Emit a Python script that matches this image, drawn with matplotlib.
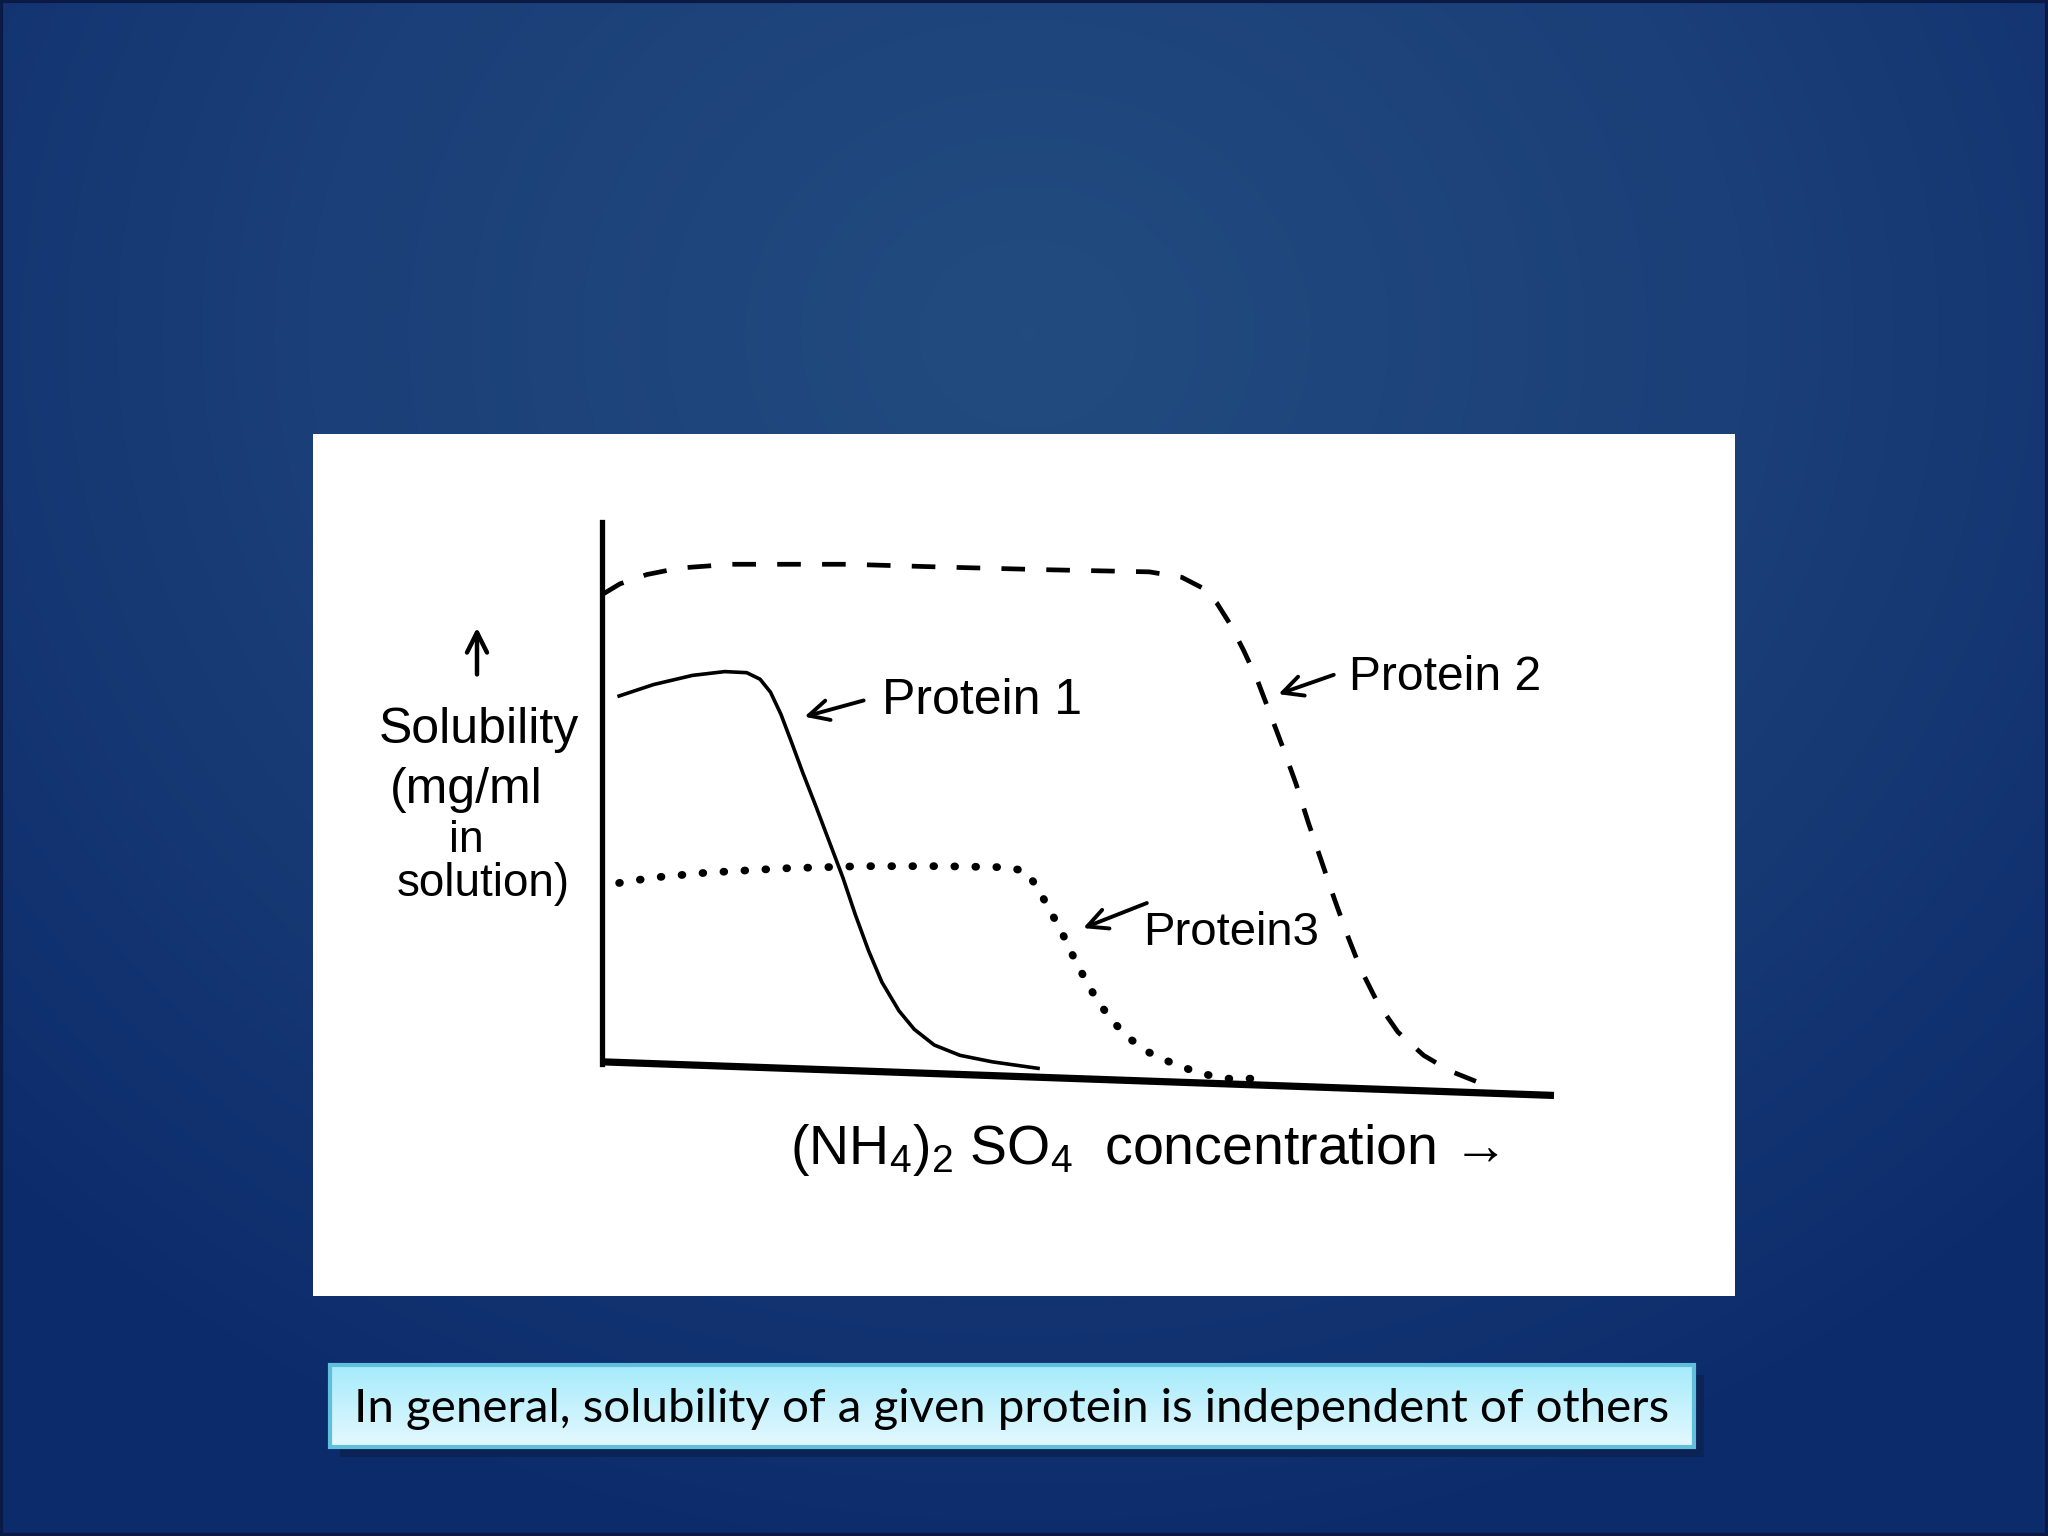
import numpy as np
import matplotlib
matplotlib.use("Agg")
import matplotlib.pyplot as plt
from matplotlib.patches import Rectangle
from matplotlib.colors import LinearSegmentedColormap

plt.rcParams["font.family"] = ["Liberation Sans", "DejaVu Sans"]
plt.rcParams["mathtext.fontset"] = "custom"
plt.rcParams["mathtext.rm"] = "Liberation Sans"
plt.rcParams["mathtext.it"] = "Liberation Sans:italic"

# salt concentration (arbitrary units) vs solubility
conc_p1 = [0.18, 0.54, 0.95, 1.29, 1.52, 1.66, 1.77, 1.88, 1.99, 2.11, 2.25, 2.39,
           2.53, 2.66, 2.80, 2.94, 3.12, 3.28, 3.49, 3.76, 4.10, 4.58]
sol_p1 = [6.79, 7.00, 7.17, 7.24, 7.22, 7.10, 6.86, 6.45, 5.94, 5.37, 4.74, 4.09,
          3.44, 2.76, 2.09, 1.51, 0.98, 0.64, 0.35, 0.16, 0.04, -0.08]

conc_p2 = [0.01, 0.19, 0.47, 0.81, 1.36, 2.59, 3.55, 4.65, 5.75, 6.09, 6.30, 6.46,
           6.60, 6.74, 6.88, 7.01, 7.15, 7.29, 7.42, 7.56, 7.70, 7.84, 7.97, 8.15,
           8.36, 8.63, 8.91, 9.18]
sol_p2 = [8.67, 8.86, 9.03, 9.15, 9.22, 9.22, 9.17, 9.12, 9.08, 8.98, 8.79, 8.50,
          8.11, 7.63, 7.10, 6.50, 5.85, 5.17, 4.45, 3.73, 3.01, 2.33, 1.75, 1.12,
          0.59, 0.16, -0.13, -0.32]

conc_p3 = [0.18, 0.54, 1.10, 1.91, 2.73, 3.55, 4.24, 4.45, 4.58, 4.69, 4.82, 4.92,
           5.04, 5.17, 5.34, 5.54, 5.75, 6.02, 6.30, 6.57, 6.82]
sol_p3 = [3.34, 3.44, 3.53, 3.61, 3.65, 3.65, 3.63, 3.56, 3.24, 2.88, 2.47, 2.09,
          1.68, 1.27, 0.83, 0.47, 0.21, -0.01, -0.18, -0.27, -0.27]

labels = ["Protein 1", "Protein 2", "Protein3"]
caption = "In general, solubility of a given protein is independent of others"

W, H = 2048, 1536
fig = plt.figure(figsize=(10.24, 7.68), dpi=200)

# slide background
bg = fig.add_axes([0, 0, 1, 1])
bg.set_xlim(0, W)
bg.set_ylim(H, 0)
bg.axis("off")
yy, xx = np.mgrid[0:H:8, 0:W:8]
r = np.sqrt(((xx - 1024) / 1.15) ** 2 + (yy - 330) ** 2) / 1250
r = np.clip(r, 0, 1)
cmap = LinearSegmentedColormap.from_list("slide", ["#224c80", "#1b3f78", "#0c2b6b"])
bg.imshow(r, cmap=cmap, extent=(0, W, H, 0), interpolation="bilinear", aspect="auto", zorder=0)
bg.add_patch(Rectangle((1, 1), W - 2, H - 2, fill=False, ec="#0a1a44", lw=1.5, zorder=1))

# white picture panel
bg.add_patch(Rectangle((313, 434), 1422, 862, fc="white", ec="none", zorder=2))

# caption box with shadow and gradient
bg.add_patch(Rectangle((340, 1375), 1364, 82, fc="#0c2250", ec="none", alpha=0.8, zorder=2))
grad = np.linspace(0, 1, 64).reshape(-1, 1)
ccmap = LinearSegmentedColormap.from_list("cap", ["#a6ebfb", "#e4f8ff"])
bg.imshow(grad, cmap=ccmap, extent=(330, 1694, 1447, 1365), aspect="auto", zorder=3)
bg.add_patch(Rectangle((330, 1365), 1364, 82, fill=False, ec="#5fbfdc", lw=1.5, zorder=4))
bg.text(1012, 1409, caption, ha="center", va="center", fontsize=17.1,
        family=["Lato", "DejaVu Sans"], color="black", zorder=5)

# the sketched chart
ax = fig.add_axes([602 / W, 1 - 1064 / H, 952 / W, 542 / H])
ax.set_xlim(0, 10)
ax.set_ylim(0, 10)
ax.patch.set_alpha(0)
ax.set_xticks([])
ax.set_yticks([])
for s in ["top", "right", "bottom"]:
    ax.spines[s].set_visible(False)
ax.spines["left"].set_linewidth(1.9)
ax.spines["left"].set_color("black")
ax.plot([0, 1], [0.004, -0.058], transform=ax.transAxes, color="black",
        lw=2.6, clip_on=False, solid_capstyle="butt")

ax.plot(conc_p1, sol_p1, color="black", lw=1.3, clip_on=False)
ax.plot(conc_p2, sol_p2, color="black", lw=1.7, dashes=(5, 4.5), clip_on=False)
ax.plot(conc_p3, sol_p3, color="black", lw=2.8, dashes=(0.1, 2.6),
        dash_capstyle="round", clip_on=False)

hand = ["Liberation Sans", "DejaVu Sans"]
arrow_kw = dict(arrowstyle="->", color="black", lw=1.4, mutation_scale=18)
ax.annotate("", xy=(2.07, 6.38), xycoords="data",
            xytext=(869, 699), textcoords=bg.transData, arrowprops=arrow_kw)
ax.annotate("", xy=(7.05, 6.79), xycoords="data",
            xytext=(1339, 673), textcoords=bg.transData, arrowprops=arrow_kw)
ax.annotate("", xy=(5.0, 2.47), xycoords="data",
            xytext=(1152, 901), textcoords=bg.transData, arrowprops=arrow_kw)

bg.text(882, 701, labels[0], ha="left", va="center", fontsize=18, family=hand, zorder=6)
bg.text(1349, 678, labels[1], ha="left", va="center", fontsize=17.3, family=hand, zorder=6)
bg.text(1143, 933, labels[2], ha="left", va="center", fontsize=17, family=hand, zorder=6)

# y label
bg.annotate("", xy=(477, 622), xytext=(477, 680),
            arrowprops=dict(arrowstyle="->", color="black", lw=1.6, mutation_scale=18), zorder=6)
bg.text(479, 730, "Solubility", ha="center", va="center", fontsize=18, family=hand, zorder=6)
bg.text(466, 790, "(mg/ml", ha="center", va="center", fontsize=18, family=hand, zorder=6)
bg.text(466, 840, "in", ha="center", va="center", fontsize=16, family=hand, zorder=6)
bg.text(483, 884, "solution)", ha="center", va="center", fontsize=16.5, family=hand, zorder=6)

# x label
bg.text(790, 1150, r"(NH$_4$)$_2$ SO$_4$  concentration →", ha="left", va="center",
        fontsize=20, family=hand, zorder=6)

fig.savefig("out.png", dpi=200)
plt.close(fig)
